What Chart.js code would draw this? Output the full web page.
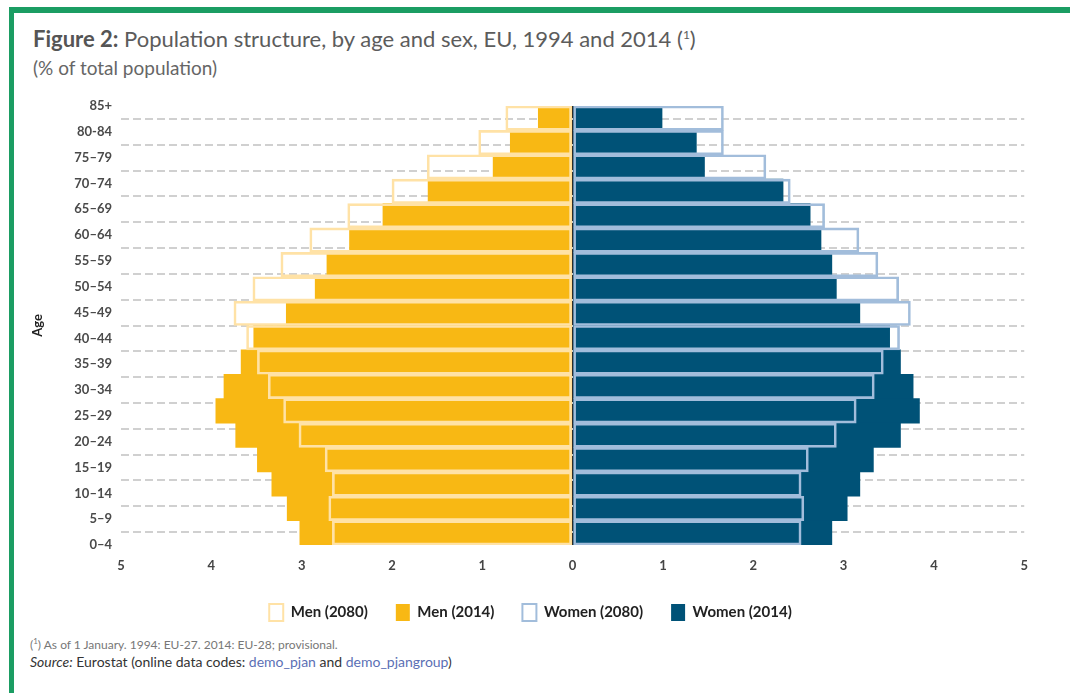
<!DOCTYPE html>
<html>
<head>
<meta charset="utf-8">
<script src="https://cdn.jsdelivr.net/npm/chart.js@4.4.1/dist/chart.umd.min.js"></script>
<style>
  body {
    margin: 0;
    background: #fff;
    font-family: Lato, 'Noto Sans', sans-serif;
  }
  #frame-top {
    position: absolute;
    left: 9px;
    top: 7px;
    width: 1061px;
    height: 6px;
    background: #1b9d63;
  }
  #frame-left {
    position: absolute;
    left: 9px;
    top: 7px;
    width: 5px;
    height: 686px;
    background: #1b9d63;
  }
  #title {
    position: absolute;
    left: 33px;
    top: 25px;
    font-size: 22px;
    color: #5c5c5c;
    white-space: nowrap;
  }
  #title b {
    color: #555;
  }
  #subtitle {
    position: absolute;
    left: 33px;
    top: 56px;
    font-size: 19px;
    color: #666;
  }
  #canvas {
    position: absolute;
    left: 0;
    top: 85px;
  }
  #note {
    position: absolute;
    left: 30px;
    top: 636px;
    font-size: 12px;
    color: #777;
  }
  #source {
    position: absolute;
    left: 30px;
    top: 653px;
    font-size: 14px;
    color: #333;
  }
  #source a {
    color: #5b6fb5;
    text-decoration: none;
  }
</style>
</head>
<body>
<div id="frame-top"></div>
<div id="frame-left"></div>
<div id="title"><b>Figure 2:</b> Population structure, by age and sex, EU, 1994 and 2014 (<sup style="font-size:12px">1</sup>)</div>
<div id="subtitle">(% of total population)</div>
<canvas id="canvas" width="1041" height="550"></canvas>
<div id="note">(<sup style="font-size:8px">1</sup>) As of 1 January. 1994: EU-27. 2014: EU-28; provisional.</div>
<div id="source"><i>Source:</i> Eurostat (online data codes: <a>demo_pjan</a> and <a>demo_pjangroup</a>)</div>

<script>
  const ageGroups = [
    '85+', '80-84', '75–79', '70–74', '65–69', '60–64', '55–59', '50–54', '45–49',
    '40–44', '35–39', '30–34', '25–29', '20–24', '15–19', '10–14', '5–9', '0–4',
  ];

  // % of total population, top row (85+) first
  const men2080 = [0.74, 1.04, 1.61, 2.0, 2.49, 2.91, 3.23, 3.54, 3.75, 3.61, 3.49, 3.37, 3.2, 3.03, 2.74, 2.66, 2.7, 2.66];
  const men2014 = [0.38, 0.69, 0.88, 1.6, 2.1, 2.47, 2.72, 2.85, 3.17, 3.53, 3.67, 3.86, 3.95, 3.73, 3.49, 3.33, 3.16, 3.02];
  const women2080 = [1.67, 1.67, 2.14, 2.41, 2.79, 3.17, 3.38, 3.61, 3.74, 3.62, 3.44, 3.34, 3.14, 2.92, 2.61, 2.53, 2.56, 2.53];
  const women2014 = [0.99, 1.37, 1.46, 2.33, 2.63, 2.75, 2.87, 2.92, 3.18, 3.51, 3.63, 3.77, 3.84, 3.63, 3.33, 3.18, 3.04, 2.87];

  const xTicks = [-5, -4, -3, -2, -1, 0, 1, 2, 3, 4, 5];

  const font = 'Lato, "Noto Sans", sans-serif';

  function outlineBars(label, values, color) {
    return {
      label: label,
      data: values,
      backgroundColor: 'rgba(255, 255, 255, 0)',
      borderColor: color,
      borderWidth: 2,
      borderSkipped: false,
      barPercentage: 1,
      categoryPercentage: 1,
      grouped: false,
    };
  }

  function filledBars(label, values, color) {
    return {
      label: label,
      data: values,
      backgroundColor: color,
      borderColor: color,
      borderWidth: 0,
      barPercentage: 1,
      categoryPercentage: 1,
      grouped: false,
    };
  }

  function renderPyramid() {
    const context = document.getElementById('canvas').getContext('2d');

    const config = {
      type: 'bar',
      data: {
        labels: ageGroups,
        datasets: [
          outlineBars('Men (2080)', men2080.map(v => -v), '#ffe2a6'),
          filledBars('Men (2014)', men2014.map(v => -v), '#f8b814'),
          outlineBars('Women (2080)', women2080, '#a2bddb'),
          filledBars('Women (2014)', women2014, '#005277'),
        ],
      },
      options: {
        indexAxis: 'y',
        responsive: false,
        animation: false,
        layout: {
          padding: {left: 30, right: 10, top: 21, bottom: 4},
        },
        scales: {
          x: {
            type: 'linear',
            min: -5,
            max: 5,
            z: 1,
            afterBuildTicks: scale => {
              scale.ticks = xTicks.map(value => ({value}));
            },
            afterFit: scale => {
              scale.height = 31;
            },
            border: {display: false},
            grid: {
              drawTicks: false,
              lineWidth: 2,
              color: ctx => (ctx.tick && ctx.tick.value === 0 ? '#2b2b2b' : 'rgba(0, 0, 0, 0)'),
            },
            ticks: {
              padding: 13,
              color: '#444',
              font: {family: font, size: 13, weight: 'bold'},
              callback: value => Math.abs(value),
            },
          },
          y: {
            type: 'category',
            offset: true,
            display: false,
          },
          yl: {
            type: 'category',
            position: 'left',
            labels: ageGroups,
            offset: false,
            afterFit: scale => {
              scale.width = 91;
            },
            border: {display: false, dash: [8, 4]},
            grid: {
              drawTicks: false,
              color: '#d0d0d0',
              lineWidth: 2,
            },
            ticks: {
              padding: 9,
              color: '#4a4a4a',
              font: {family: font, size: 13, weight: 'bold'},
            },
            title: {
              display: true,
              text: 'Age',
              color: '#222',
              padding: {top: 0, bottom: 0},
              font: {family: font, size: 13, weight: 'bold'},
            },
          },
        },
        plugins: {
          legend: {
            position: 'bottom',
            labels: {
              boxWidth: 14,
              boxHeight: 17,
              padding: 28,
              color: '#222',
              font: {family: font, size: 15, weight: 'bold'},
            },
          },
          tooltip: {enabled: false},
        },
      },
    };

    return new Chart(context, config);
  }

  document.addEventListener('DOMContentLoaded', () => {
    renderPyramid();
  });
</script>
</body>
</html>
